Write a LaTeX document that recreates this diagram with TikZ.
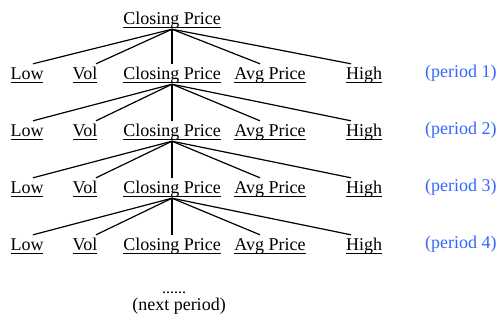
\documentclass[tikz,border=0pt]{standalone}
\usepackage{fontspec}
\setmainfont{Liberation Serif}
\usepackage{xcolor}
\definecolor{periodblue}{RGB}{51,102,255}
\newsavebox{\ulbox}
\newcommand{\ulword}[1]{\sbox{\ulbox}{#1}\rlap{\rule[-3.5bp]{\wd\ulbox}{0.9bp}}\usebox{\ulbox}}
\tikzset{note/.style={anchor=base,inner sep=0pt,
                      font=\fontsize{18bp}{21bp}\selectfont},
         attr/.style={note,inner ysep=2bp,text height=13bp,text depth=3bp},
         period/.style={attr,anchor=base west,text=periodblue},
         branch/.style={line width=1.2bp},
         }

\begin{document}
\begin{tikzpicture}[x=1bp,y=-1bp]
\useasboundingbox (0,0) rectangle (498,329);
\node[attr] (cp0) at (172,24) {\ulword{Closing Price}};
\foreach \i/\y in {1/79,2/136,3/193,4/250}{
  \pgfmathtruncatemacro\j{\i-1}
  \foreach \nm/\x/\txt/\off in {low/27/Low/6,vol/85/Vol/11,cp/172/Closing Price/0,
                                avg/270/Avg Price/-10,high/364/High/-13}{
    \node[attr] (\nm\i) at (\x,\y) {\ulword{\txt}};
    \draw[branch] (cp\j.south) -- ([xshift=\off bp]\nm\i.north);
  }
  \node[period] (per\i) at (425,\y-2) {(period \i)};
}
\node[note,font=\fontsize{16bp}{18bp}\selectfont] (dots) at (174,293) {......};
\node[note] (next) at (179,310) {(next period)};
\end{tikzpicture}
\end{document}
